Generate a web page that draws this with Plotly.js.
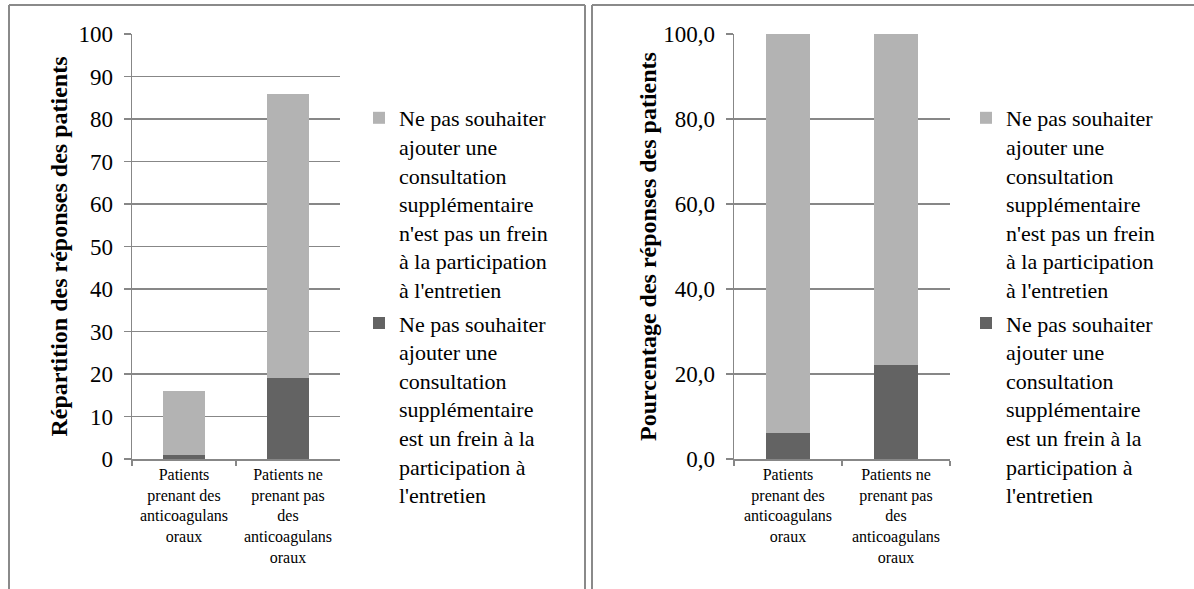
<!DOCTYPE html>
<html>
<head>
<meta charset="utf-8">
<script src="https://cdn.plot.ly/plotly-3.0.1.min.js"></script>
<style>
html,body{margin:0;padding:0;background:#fff;}
#chart{width:1194px;height:589px;}
</style>
</head>
<body>
<div id="chart"></div>
<script>
// ---- data ----
const categories = [
  "Patients<br>prenant des<br>anticoagulans<br>oraux",
  "Patients ne<br>prenant pas<br>des<br>anticoagulans<br>oraux"
];
const seriesFreinName = "Ne pas souhaiter<br>ajouter une<br>consultation<br>supplémentaire<br>est un frein à la<br>participation à<br>l'entretien";
const seriesPasFreinName = "Ne pas souhaiter<br>ajouter une<br>consultation<br>supplémentaire<br>n'est pas un frein<br>à la participation<br>à l'entretien";
// left chart: counts
const countFrein = [1, 19];
const countPasFrein = [15, 67];
// right chart: percentages
const pctFrein = [6.2, 22.1];
const pctPasFrein = [93.8, 77.9];

const DARK = "#636363", LIGHT = "#b3b3b3", GRID = "#878787";
const FONT = '"Liberation Serif", "Times New Roman", serif';
const W = 1194, H = 589;
const px = v => v / W, py = v => 1 - v / H;

const traces = [
  {type:"bar", x:categories, y:countFrein, name:seriesFreinName, marker:{color:DARK},
   xaxis:"x", yaxis:"y", legend:"legend", legendgroup:"a1", legendrank:2, width:0.4, hoverinfo:"y"},
  {type:"bar", x:categories, y:countPasFrein, name:seriesPasFreinName, marker:{color:LIGHT},
   xaxis:"x", yaxis:"y", legend:"legend", legendgroup:"b1", legendrank:1, width:0.4, hoverinfo:"y"},
  {type:"bar", x:categories, y:pctFrein, name:seriesFreinName, marker:{color:DARK},
   xaxis:"x2", yaxis:"y2", legend:"legend2", legendgroup:"a2", legendrank:2, width:0.4, hoverinfo:"y"},
  {type:"bar", x:categories, y:pctPasFrein, name:seriesPasFreinName, marker:{color:LIGHT},
   xaxis:"x2", yaxis:"y2", legend:"legend2", legendgroup:"b2", legendrank:1, width:0.4, hoverinfo:"y"}
];

const xCommon = {
  type:"category", showline:true, linecolor:GRID, linewidth:1.5,
  ticks:"outside", tickson:"boundaries", ticklen:5, tickcolor:GRID, tickwidth:1.5,
  tickfont:{family:FONT, size:16, color:"#000"}, showgrid:false, zeroline:false,
  fixedrange:true
};
const yCommon = {
  range:[0,100], showline:true, linecolor:GRID, linewidth:1.5,
  ticks:"outside", ticklen:7, tickcolor:GRID, tickwidth:1.5, ticklabelstandoff:6,
  showgrid:true, gridcolor:GRID, gridwidth:1.5, zeroline:false,
  tickfont:{family:FONT, size:23, color:"#000"}, fixedrange:true
};

const legendCommon = {
  font:{family:FONT, size:22, color:"#000"}, traceorder:"grouped", tracegroupgap:2,
  valign:"top", itemwidth:30, bgcolor:"rgba(0,0,0,0)", yanchor:"top", xanchor:"left"
};

const borderLine = {type:"line", xref:"paper", yref:"paper", line:{color:"#8a8a8a", width:2}};

const layout = {
  width:W, height:H, margin:{l:0,r:0,t:0,b:0},
  paper_bgcolor:"#fff", plot_bgcolor:"#fff",
  barmode:"stack", separators:", ",
  font:{family:FONT, color:"#000"},
  xaxis:Object.assign({}, xCommon, {domain:[px(132), px(340)], anchor:"y"}),
  yaxis:Object.assign({}, yCommon, {domain:[py(459), py(34)], anchor:"x", dtick:10,
    title:{text:"<b>Répartition des réponses des patients</b>", font:{family:FONT, size:24, color:"#000"}, standoff:4}}),
  xaxis2:Object.assign({}, xCommon, {domain:[px(734), px(950)], anchor:"y2"}),
  yaxis2:Object.assign({}, yCommon, {domain:[py(459), py(34)], anchor:"x2", dtick:20, tickformat:".1f",
    title:{text:"<b>Pourcentage des réponses des patients</b>", font:{family:FONT, size:24, color:"#000"}, standoff:0}}),
  legend:Object.assign({}, legendCommon, {x:px(359), y:py(97)}),
  legend2:Object.assign({}, legendCommon, {x:px(966), y:py(97)}),
  shapes:[
    Object.assign({}, borderLine, {x0:px(9), x1:px(9), y0:-0.05, y1:py(5)}),
    Object.assign({}, borderLine, {x0:px(9), x1:px(585), y0:py(5), y1:py(5)}),
    Object.assign({}, borderLine, {x0:px(585), x1:px(585), y0:-0.05, y1:py(5)}),
    Object.assign({}, borderLine, {x0:px(592), x1:px(592), y0:-0.05, y1:py(5)}),
    Object.assign({}, borderLine, {x0:px(592), x1:1.01, y0:py(5), y1:py(5)})
  ]
};

Plotly.newPlot("chart", traces, layout, {displayModeBar:false, staticPlot:true});
</script>
</body>
</html>
